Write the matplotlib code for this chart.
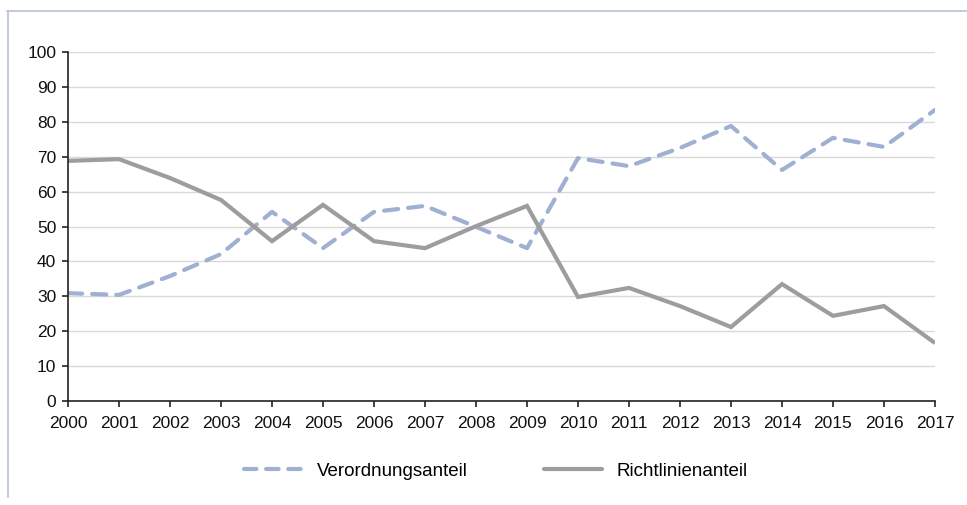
import matplotlib
matplotlib.use('Agg')
import matplotlib.pyplot as plt
from matplotlib.lines import Line2D

plt.rcParams['font.family'] = ['Liberation Sans', 'DejaVu Sans']

# Data (shares in percent)
years = list(range(2000, 2018))
verordnung = [30.9, 30.4, 35.8, 42.1, 54.2, 43.8, 54.2, 55.9, 49.9, 43.8,
              69.6, 67.3, 72.5, 78.8, 66.2, 75.4, 72.8, 83.4]
richtlinie = [68.8, 69.3, 63.9, 57.6, 45.8, 56.2, 45.8, 43.8, 50.1, 55.9,
              29.8, 32.4, 27.2, 21.2, 33.5, 24.4, 27.2, 16.6]
labels = ['Verordnungsanteil', 'Richtlinienanteil']

blue = '#a0b0d2'
grey = '#9d9d9d'
axis_col = '#222222'

fig = plt.figure(figsize=(9.67, 5.05), dpi=100)
ax = fig.add_axes([68 / 967, 1 - 401 / 505, (935 - 68) / 967, (401 - 52) / 505])

ax.plot(years, verordnung, color=blue, lw=3, linestyle=(0, (3.4, 2.4)),
        dash_capstyle='round', solid_joinstyle='miter', label=labels[0])
ax.plot(years, richtlinie, color=grey, lw=3, solid_joinstyle='miter',
        solid_capstyle='butt', label=labels[1])

ax.set_xlim(2000, 2017)
ax.set_ylim(0, 100)
ax.set_xticks(years)
ax.set_yticks(range(0, 101, 10))
ax.yaxis.grid(True, color='#d9d9d9', lw=1)
ax.set_axisbelow(True)
for s in ['top', 'right']:
    ax.spines[s].set_visible(False)
for s in ['left', 'bottom']:
    ax.spines[s].set_color(axis_col)
    ax.spines[s].set_linewidth(1.2)
ax.tick_params(axis='both', colors=axis_col, labelcolor='#111111',
               labelsize=12.5, length=4.5, width=1.2, direction='out')
ax.tick_params(axis='y', pad=4)
ax.tick_params(axis='x', pad=6)

# legend
handles = [Line2D([], [], color=blue, lw=3, linestyle=(0, (3.0, 2.3)), dash_capstyle='round'),
           Line2D([], [], color=grey, lw=3, solid_capstyle='round')]
fig.legend(handles, labels, loc='center', bbox_to_anchor=(496 / 967, 1 - 471 / 505),
           ncol=2, frameon=False, fontsize=13.5, handlelength=3.1,
           columnspacing=4.1, handletextpad=0.75)

# outer frame (left and top edges visible)
frame_col = '#b8c2d8'
fig.add_artist(Line2D([7.5 / 967, 7.5 / 967], [1 - 497 / 505, 1 - 11 / 505],
                      color=frame_col, lw=1.2, transform=fig.transFigure))
fig.add_artist(Line2D([7 / 967, 1], [1 - 11 / 505, 1 - 11 / 505],
                      color=frame_col, lw=1.2, transform=fig.transFigure))

plt.savefig('out.png', dpi=100)
plt.close()
